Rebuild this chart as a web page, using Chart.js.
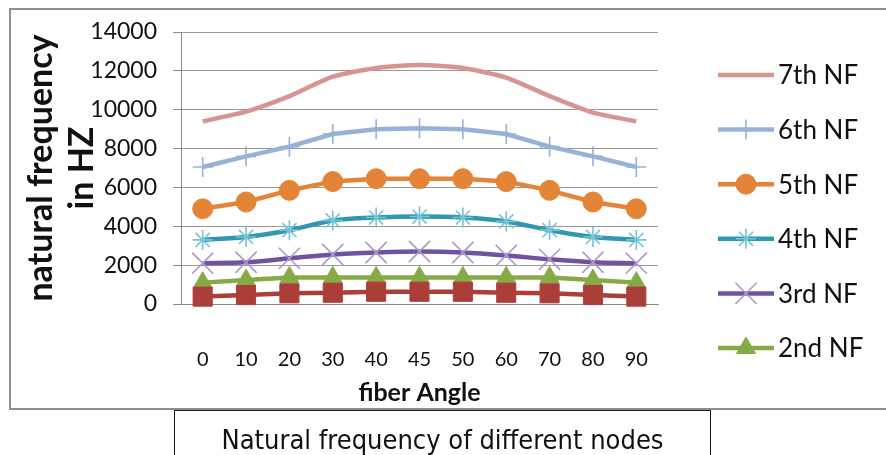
<!DOCTYPE html>
<html>
<head>
<meta charset="utf-8">
<script src="https://cdn.jsdelivr.net/npm/chart.js@4/dist/chart.umd.min.js"></script>
<style>
    html, body { margin: 0; padding: 0; background: #fff; }
    body { width: 886px; height: 455px; position: relative; overflow: hidden; }
    #nfChart { position: absolute; left: 0; top: 0; }
    #frame {
        position: absolute; left: 9px; top: 8px; width: 920px; height: 398px;
        border: 2.5px solid #8e8e8e; pointer-events: none;
    }
    #caption {
        position: absolute; left: 174px; top: 410px; width: 535px; height: 60px;
        border: 1.5px solid #1a1a1a; border-bottom: none; box-sizing: content-box;
        padding-top: 12px; line-height: 34px; text-align: center;
        font-family: "Liberation Sans Narrow", "DejaVu Sans Condensed", Lato, sans-serif;
        font-size: 27px; color: #111;
    }
</style>
</head>
<body>
<canvas id="nfChart" width="886" height="411"></canvas>
<div id="frame"></div>
<div id="caption">Natural frequency of different nodes</div>

<script>
// fiber angle categories
const angles = ['0', '10', '20', '30', '40', '45', '50', '60', '70', '80', '90'];

// natural frequency (Hz)
const nf1 = [380, 460, 550, 580, 630, 630, 630, 580, 550, 460, 380];
const nf2 = [1100, 1230, 1370, 1370, 1370, 1370, 1370, 1370, 1370, 1230, 1100];
const nf3 = [2100, 2150, 2350, 2550, 2650, 2700, 2650, 2500, 2300, 2150, 2100];
const nf4 = [3300, 3450, 3800, 4300, 4450, 4500, 4450, 4250, 3800, 3450, 3300];
const nf5 = [4900, 5250, 5850, 6300, 6450, 6450, 6450, 6300, 5850, 5250, 4900];
const nf6 = [7050, 7600, 8100, 8750, 9000, 9050, 9000, 8750, 8100, 7600, 7050];
const nf7 = [9400, 9900, 10700, 11700, 12150, 12300, 12150, 11650, 10700, 9850, 9400];

const yTicks = [0, 2000, 4000, 6000, 8000, 10000, 12000, 14000];

const FONT = 'Lato, "Open Sans", sans-serif';

function series(label, data, line, marker, style, radius, tension) {
    return {
        label: label,
        data: data,
        borderColor: line,
        backgroundColor: line,
        borderWidth: 4.5,
        tension: tension || 0,
        pointStyle: style,
        pointRadius: radius,
        pointHoverRadius: radius,
        pointBackgroundColor: marker,
        pointBorderColor: marker,
        pointBorderWidth: style === 'circle' || style === 'rect' || style === 'triangle' ? 1 : 1.6,
        clip: false
    };
}

const datasets = [
    series('1st NF', nf1, 'rgb(172,62,58)', 'rgb(172,62,58)', 'rect', 13.5),
    series('2nd NF', nf2, 'rgb(134,170,70)', 'rgb(134,170,70)', 'triangle', 11),
    series('3rd NF', nf3, 'rgb(112,82,160)', 'rgb(172,154,202)', 'crossRot', 15, 0.3),
    series('4th NF', nf4, 'rgb(45,152,176)', 'rgb(118,196,214)', 'star', 10, 0.3),
    series('5th NF', nf5, 'rgb(228,132,54)', 'rgb(228,132,54)', 'circle', 10),
    series('6th NF', nf6, 'rgb(150,178,216)', 'rgb(150,178,216)', 'cross', 10),
    series('7th NF', nf7, 'rgb(216,148,146)', 'rgb(216,148,146)', 'circle', 0, 0.2)
];

// Excel style legend on the right: line with the marker in its middle
const sideLegend = {
    id: 'sideLegend',
    afterDraw(chart) {
        const ctx = chart.ctx;
        const shown = chart.data.datasets.slice(1).reverse();
        ctx.save();
        shown.forEach((ds, i) => {
            const y = 75 + i * 54.6;
            ctx.strokeStyle = ds.borderColor;
            ctx.lineWidth = ds.borderWidth;
            ctx.beginPath();
            ctx.moveTo(718, y);
            ctx.lineTo(774, y);
            ctx.stroke();
            if (ds.pointRadius > 0) {
                ctx.fillStyle = ds.pointBackgroundColor;
                ctx.strokeStyle = ds.pointBorderColor;
                ctx.lineWidth = ds.pointBorderWidth;
                Chart.helpers.drawPoint(ctx, {
                    pointStyle: ds.pointStyle,
                    radius: ds.pointRadius,
                    rotation: 0,
                    borderWidth: ds.pointBorderWidth
                }, 746, y);
            }
            ctx.fillStyle = '#111';
            ctx.font = '26px ' + FONT;
            ctx.textBaseline = 'middle';
            ctx.textAlign = 'left';
            ctx.fillText(ds.label, 778, y + 1);
        });
        ctx.restore();
    }
};

new Chart(document.getElementById('nfChart'), {
    type: 'line',
    data: { labels: angles, datasets: datasets },
    plugins: [sideLegend],
    options: {
        responsive: false,
        animation: false,
        devicePixelRatio: 1,
        layout: { padding: { left: 0, right: 228, top: 32, bottom: 0 } },
        plugins: {
            legend: { display: false },
            tooltip: { enabled: false }
        },
        scales: {
            x: {
                offset: true,
                afterFit: s => { s.height = 107; },
                grid: { display: false, offset: true },
                border: { display: true, color: '#8a8a8a', width: 1 },
                ticks: {
                    padding: 36,
                    color: '#111',
                    font: { family: FONT, size: 20 }
                },
                title: {
                    display: true,
                    text: 'fiber Angle',
                    color: '#111',
                    font: { family: FONT, size: 25, weight: 'bold' },
                    padding: { top: 0, bottom: 3 }
                }
            },
            y: {
                min: 0,
                max: 14000,
                afterFit: s => { s.width = 181; },
                afterBuildTicks: s => { s.ticks = yTicks.map(v => ({ value: v })); },
                grid: { color: '#999999', lineWidth: 1, tickLength: 8, tickColor: '#8a8a8a' },
                border: { display: true, color: '#8a8a8a', width: 1 },
                ticks: {
                    padding: 16,
                    color: '#111',
                    font: { family: FONT, size: 23 },
                    callback: v => String(v)
                },
                title: {
                    display: true,
                    text: ['natural frequency', 'in HZ'],
                    color: '#111',
                    font: { family: FONT, size: 34, weight: 'bold', lineHeight: 1.2 },
                    padding: { top: 21, bottom: 0 }
                }
            }
        }
    }
});
</script>
</body>
</html>
